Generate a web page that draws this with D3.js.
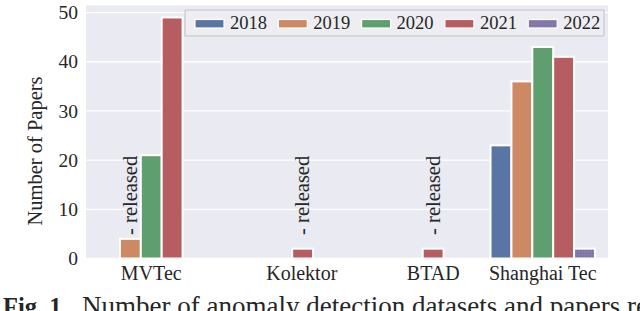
<!DOCTYPE html>
<html>
<head>
<meta charset="utf-8">
<script src="https://cdn.jsdelivr.net/npm/d3@7"></script>
<style>
  html, body { margin: 0; padding: 0; background: #ffffff; overflow: hidden; }
  svg { display: block; }
  text { font-family: "Liberation Serif", "DejaVu Serif", serif; fill: #262626; }
</style>
</head>
<body>
<svg id="chart" width="640" height="311"></svg>
<script>
// ---- data ----
const categories = ["MVTec", "Kolektor", "BTAD", "Shanghai Tec"];
const years = ["2018", "2019", "2020", "2021", "2022"];
const values2018 = [0, 0, 0, 23];
const values2019 = [4, 0, 0, 36];
const values2020 = [21, 0, 0, 43];
const values2021 = [49, 2, 2, 41];
const values2022 = [0, 0, 0, 2];
const releaseYear = ["2019", "2021", "2021", null];
const releaseLabel = "- released";
const yTicks = [0, 10, 20, 30, 40, 50];
const yLabel = "Number of Papers";
const captionBold = "Fig. 1.";
const captionText = "Number of anomaly detection datasets and papers released";

// ---- rendering ----
const series = [values2018, values2019, values2020, values2021, values2022];
const colors = ["#5975A4", "#CC8963", "#5F9E6E", "#B55D60", "#857AAB"];
const svg = d3.select("#chart");
const plot = { left: 86, right: 608, top: 5.4, bottom: 258.5 };

const defs = svg.append("defs");
const pat = defs.append("pattern").attr("id", "dots")
  .attr("patternUnits", "userSpaceOnUse").attr("width", 3).attr("height", 3);
pat.append("rect").attr("width", 3).attr("height", 3).attr("fill", colors[4]);
pat.append("circle").attr("cx", 1.5).attr("cy", 1.5).attr("r", 0.55).attr("fill", "#6f6596");

const x = d3.scaleBand().domain(categories).range([plot.left, plot.right]).padding(0);
const xi = d3.scaleBand().domain(years)
  .range([x.bandwidth() * 0.1, x.bandwidth() * 0.9]).padding(0);
const yMax = d3.max(series.flat()) * 1.05;
const y = d3.scaleLinear().domain([0, yMax]).range([plot.bottom, plot.top]);

// background
svg.append("rect").attr("x", plot.left).attr("y", plot.top)
  .attr("width", plot.right - plot.left).attr("height", plot.bottom - plot.top)
  .attr("fill", "#EAEAF2");

// grid
svg.append("g").selectAll("line").data(yTicks).join("line")
  .attr("x1", plot.left).attr("x2", plot.right)
  .attr("y1", d => y(d)).attr("y2", d => y(d))
  .attr("stroke", "#ffffff").attr("stroke-width", 1.3);

// y axis
const yAxis = d3.axisLeft(y).tickValues(yTicks).tickSize(0).tickPadding(8);
const gy = svg.append("g").attr("transform", `translate(${plot.left},0)`).call(yAxis);
gy.select(".domain").remove();
gy.selectAll("text").attr("font-size", 19.5).attr("font-family", "Liberation Serif").attr("fill", "#262626");

// x axis
const labelNudge = { "Kolektor": 20, "BTAD": 21 };
const xAxis = d3.axisBottom(x).tickSize(0).tickPadding(7);
const gx = svg.append("g").attr("transform", `translate(0,${plot.bottom})`).call(xAxis);
gx.select(".domain").remove();
gx.selectAll("text").attr("font-size", 20).attr("font-family", "Liberation Serif").attr("fill", "#262626")
  .attr("dx", d => labelNudge[d] || 0);

// bars
const barData = [];
categories.forEach((c, ci) => {
  years.forEach((yr, yi) => {
    const v = series[yi][ci];
    if (v > 0) barData.push({ c, yr, yi, v });
  });
});
svg.append("g").selectAll("rect").data(barData).join("rect")
  .attr("x", d => x(d.c) + xi(d.yr))
  .attr("width", xi.bandwidth())
  .attr("y", d => y(d.v))
  .attr("height", d => y(0) - y(d.v))
  .attr("fill", d => d.yi === 4 ? "url(#dots)" : colors[d.yi])
  .attr("stroke", "#ffffff").attr("stroke-width", 2);

// release annotations
const ann = categories.map((c, i) => ({ c, yr: releaseYear[i] })).filter(d => d.yr);
svg.append("g").selectAll("text").data(ann).join("text")
  .attr("transform", d => `translate(${x(d.c) + xi(d.yr) + xi.bandwidth() / 2},${y(4.8)}) rotate(-90)`)
  .attr("dy", "0.33em")
  .attr("font-size", 20.5)
  .text(releaseLabel);

// y label
svg.append("text")
  .attr("transform", `translate(46,151) rotate(-90)`)
  .attr("text-anchor", "middle")
  .attr("dy", "-0.22em")
  .attr("font-size", 20.5)
  .text(yLabel);

// legend
const lg = svg.append("g");
lg.append("rect").attr("x", 185).attr("y", 10).attr("width", 419).attr("height", 26)
  .attr("fill", "#EDEDF2").attr("stroke", "#CFCFD4").attr("stroke-width", 1.5).attr("rx", 1);
const step = 83.3;
const items = lg.selectAll("g.item").data(years).join("g").attr("class", "item")
  .attr("transform", (d, i) => `translate(${195 + i * step},0)`);
items.append("rect").attr("x", 0).attr("y", 19.5).attr("width", 29).attr("height", 8.5)
  .attr("fill", (d, i) => i === 4 ? "url(#dots)" : colors[i])
  .attr("stroke", "#ffffff").attr("stroke-width", 1.2);
items.append("text").attr("x", 35).attr("y", 29.3).attr("font-size", 18.5).text(d => d);

// caption
const cap = svg.append("text").attr("x", 3).attr("y", 315).attr("fill", "#111");
cap.append("tspan").attr("font-weight", "bold").attr("font-size", 24.5).text(captionBold);
cap.append("tspan").attr("x", 82).attr("font-size", 27).text(captionText);
</script>
</body>
</html>
